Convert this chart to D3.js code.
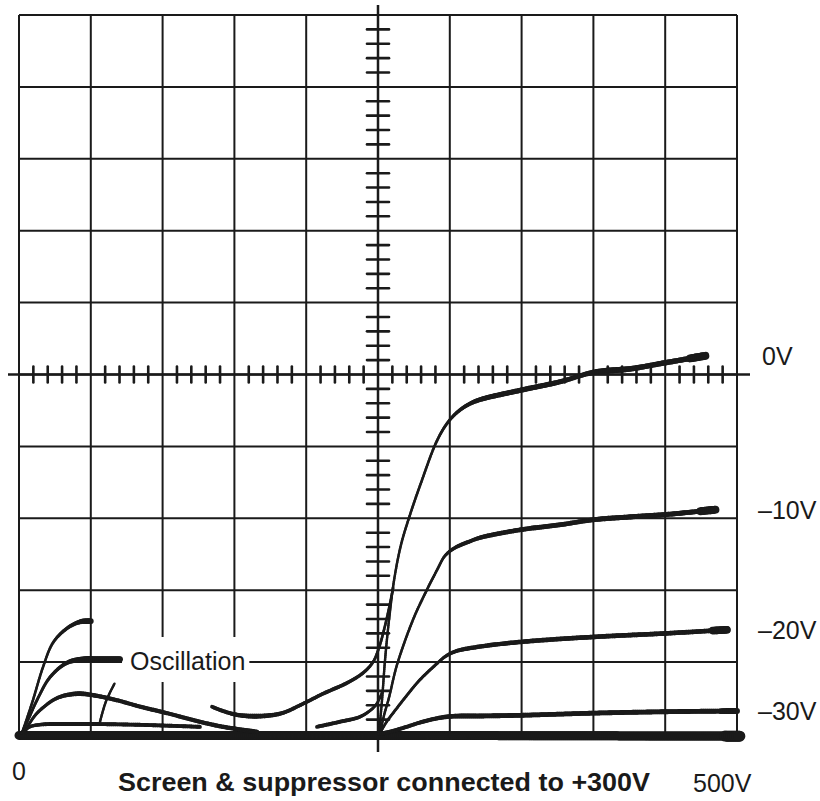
<!DOCTYPE html>
<html>
<head>
<meta charset="utf-8">
<script src="https://cdn.jsdelivr.net/npm/d3@7"></script>
<style>
  body { margin: 0; background: #fff; }
  svg { display: block; }
  text { font-family: "Liberation Sans", Arial, sans-serif; fill: #1a1a1a; }
</style>
</head>
<body>
<div id="chart"></div>
<script>
// plate voltage (V) against plate current, current read in graticule divisions
const gridLabels = ["0V", "–10V", "–20V", "–30V"];

const curve0V = [[250.7,0.01],[252.8,0.47],[254.9,1.03],[257.7,1.59],[261.2,2.14],[266,2.63],[272.3,3.05],[280.6,3.53],[290.4,4.05],[297.4,4.3],[304.3,4.46],[312.7,4.58],[321,4.65],[349,4.78],[377,4.9],[400,5.03],[426,5.08],[449,5.16],[478,5.26]];
const curveM10 = [[251.4,0.01],[254.2,0.26],[257.7,0.51],[263.2,0.96],[274.4,1.59],[282.7,1.95],[291.1,2.28],[296.7,2.48],[303.6,2.59],[314.1,2.68],[321,2.73],[349,2.84],[377,2.91],[400,2.98],[426,3.02],[449,3.05],[485,3.12]];
const curveM20 = [[251,0],[256,0.17],[262,0.33],[269,0.51],[279,0.75],[290,0.96],[297,1.08],[304,1.15],[319,1.21],[349,1.28],[400,1.35],[451,1.4],[493,1.45]];
const curveM30 = [[251,0],[258,0.03],[270,0.1],[281,0.17],[298,0.24],[321,0.25],[349,0.26],[400,0.29],[451,0.31],[500,0.32]];
const cutoff = [[0,-0.02],[250,-0.02],[502,-0.03]];

// low voltage end, where the valve oscillated
const osc1 = [[2,0.01],[5.6,0.22],[9.7,0.47],[16.7,0.93],[23.7,1.27],[33.4,1.47],[42.5,1.56],[50,1.57]];
const osc2 = [[2,0.01],[7.7,0.26],[12.5,0.47],[21.6,0.79],[33.4,0.99],[44.6,1.04],[56.4,1.04],[70.3,1.04]];
const osc3 = [[3.5,0.01],[9.7,0.22],[14.6,0.33],[26.5,0.5],[40.4,0.56],[51.5,0.54],[68.2,0.47],[84.3,0.38],[103.1,0.29],[126,0.17],[142.1,0.1],[165.7,0.03]];
const osc4 = [[2,0.01],[7.7,0.1],[14.6,0.13],[33.4,0.14],[79.4,0.13],[126,0.1]];
const glitch = [[66.5,0.7],[60.5,0.45],[56.4,0.17]];
const curve0VLow = [[134.4,0.38],[143.5,0.31],[153.9,0.26],[169.2,0.25],[183.2,0.29],[195.7,0.4],[211.7,0.56],[228.4,0.71],[239.6,0.85],[246.5,1.0],[250.7,1.2],[254.2,1.45],[257.7,1.75],[260.5,2.03]];
const curveM10Low = [[207.5,0.1],[223.5,0.17],[237.5,0.24],[246.5,0.36],[250,0.45],[252.8,0.58]];

const width = 820, height = 801;
const ink = "#1a1a1a";

const svg = d3.select("#chart").append("svg")
    .attr("width", width)
    .attr("height", height);

const x = d3.scaleLinear().domain([0, 500]).range([19, 737]);
const y = d3.scaleLinear().domain([0, 10]).range([734, 15]);

// graticule
const grid = svg.append("g").attr("stroke", ink).attr("stroke-width", 2);
grid.selectAll(".vx").data(d3.range(0, 501, 50)).join("line")
    .attr("x1", d => x(d)).attr("x2", d => x(d))
    .attr("y1", y(10)).attr("y2", y(0));
grid.selectAll(".hy").data(d3.range(0, 11, 1)).join("line")
    .attr("x1", x(0)).attr("x2", x(500))
    .attr("y1", d => y(d)).attr("y2", d => y(d));

// centre axes with the minor ticks
grid.append("line")
    .attr("x1", x(250)).attr("x2", x(250))
    .attr("y1", y(10) - 10).attr("y2", y(0) + 18)
    .attr("stroke-width", 2.5);
grid.append("line")
    .attr("x1", x(0) - 11).attr("x2", x(500) + 13)
    .attr("y1", y(5)).attr("y2", y(5))
    .attr("stroke-width", 2.5);

const ticks = svg.append("g").attr("stroke", ink).attr("stroke-width", 2.6).attr("stroke-linecap", "round");
ticks.selectAll(".tx").data(d3.range(0, 501, 10).filter(d => d % 50 !== 0)).join("line")
    .attr("x1", d => x(d)).attr("x2", d => x(d))
    .attr("y1", y(5) - 8).attr("y2", y(5) + 8);
ticks.selectAll(".ty").data(d3.range(1, 50).filter(d => d % 5 !== 0).map(d => d / 5)).join("line")
    .attr("x1", x(250) - 11).attr("x2", x(250) + 11)
    .attr("y1", d => y(d)).attr("y2", d => y(d));

// "Oscillation" label sits on a white patch over the grid
const oscLabel = svg.append("g");
const oscText = oscLabel.append("text")
    .attr("x", 130).attr("y", 670)
    .attr("font-size", 25)
    .text("Oscillation");
const bb = oscText.node().getBBox();
oscLabel.insert("rect", "text")
    .attr("x", bb.x - 8).attr("y", bb.y - 10)
    .attr("width", bb.width + 12).attr("height", bb.height + 17)
    .attr("fill", "#fff");

// traces: thin where the spot moves fast (steep), heavy where it moves slowly (flat)
const traces = svg.append("g").attr("stroke", ink).attr("stroke-linecap", "round").attr("fill", "none");
const line = d3.line().x(d => x(d[0])).y(d => y(d[1])).curve(d3.curveCatmullRom.alpha(0.5));

function drawTrace(pts, wThin, wFat, endBoost) {
  const tmp = traces.append("path").attr("d", line(pts)).attr("stroke", "none");
  const node = tmp.node();
  const len = node.getTotalLength();
  const step = 2;
  let prev = node.getPointAtLength(0);
  for (let s = step; s <= len + step; s += step) {
    const p = node.getPointAtLength(Math.min(s, len));
    const dx = p.x - prev.x, dy = p.y - prev.y;
    const steep = Math.abs(dy) / (Math.hypot(dx, dy) || 1);
    let w = wFat - (wFat - wThin) * Math.pow(steep, 0.7);
    if (endBoost && len - s < 14) w += endBoost;
    traces.append("line")
        .attr("x1", prev.x).attr("y1", prev.y)
        .attr("x2", p.x).attr("y2", p.y)
        .attr("stroke-width", w);
    prev = p;
  }
  tmp.remove();
}

drawTrace(cutoff, 9, 9, 2);
drawTrace(curve0V, 2.4, 6.5, 2.5);
drawTrace(curveM10, 2.4, 5.5, 3);
drawTrace(curveM20, 2.4, 5, 3);
drawTrace(curveM30, 2.4, 5, 1);
drawTrace(curve0VLow, 2.6, 5, 0);
drawTrace(curveM10Low, 2.4, 4.5, 0);
drawTrace(osc1, 2.4, 6, 0);
drawTrace(osc2, 2.6, 6, 0);
drawTrace(osc3, 2.6, 5, 0);
drawTrace(osc4, 2.4, 4, 0);
drawTrace(glitch, 2.4, 3, 0);

// grid voltage labels at the end of each trace
const ends = [curve0V, curveM10, curveM20, curveM30].map(c => c[c.length - 1]);
svg.append("g").selectAll("text").data(gridLabels).join("text")
    .attr("x", (d, i) => i === 0 ? 762 : 758)
    .attr("y", (d, i) => y(ends[i][1]) + 9)
    .attr("font-size", 25)
    .text(d => d);

// bottom annotations
svg.append("text").attr("x", 12).attr("y", 780).attr("font-size", 25).text("0");
svg.append("text").attr("x", 693).attr("y", 792).attr("font-size", 25).text("500V");
svg.append("text")
    .attr("x", 118).attr("y", 791)
    .attr("font-size", 26)
    .attr("font-weight", "bold")
    .attr("textLength", 532)
    .attr("lengthAdjust", "spacingAndGlyphs")
    .text("Screen & suppressor connected to +300V");
</script>
</body>
</html>
